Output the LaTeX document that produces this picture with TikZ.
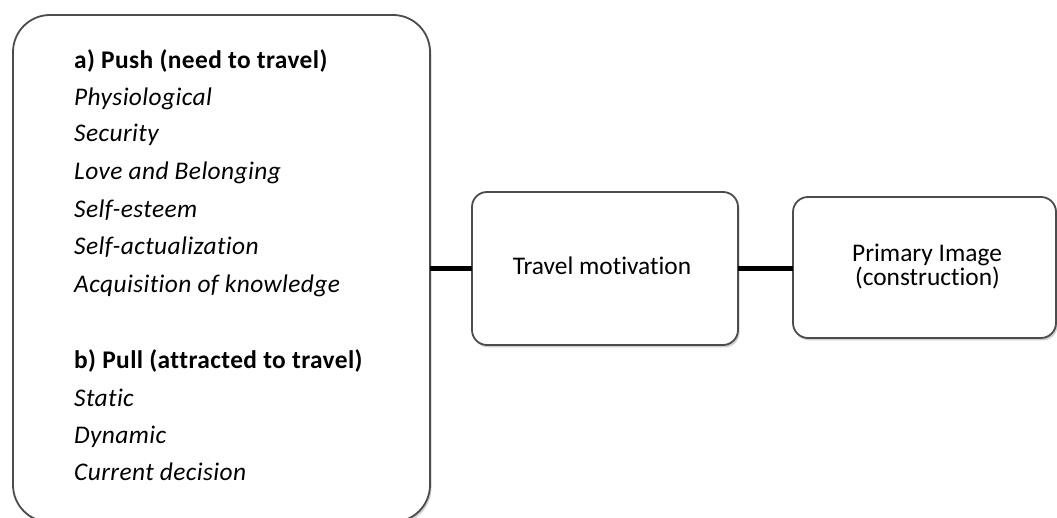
\documentclass[tikz,border=0pt]{standalone}
\usepackage{fontspec}
\setmainfont{Carlito}[Ligatures=NoCommon]
\newfontfamily\lsfont{Carlito}[Ligatures=NoCommon, LetterSpace=1.6]
\usetikzlibrary{shadows}
\begin{document}
\begin{tikzpicture}[x=1pt,y=-1pt,
  box/.style={draw=black!70, line width=1.8pt, fill=white, inner sep=0pt, outer sep=0pt,
    drop shadow={shadow xshift=1.5pt, shadow yshift=-2.5pt, opacity=0.3, fill=black!60}},
  conn/.style={line width=4.5pt, black},
  txt/.style={inner sep=0pt, font=\fontsize{25.4pt}{30pt}\selectfont},
  head/.style={txt, font=\lsfont\fontsize{25.4pt}{30pt}\selectfont\bfseries, anchor=base west},
  item/.style={txt, font=\lsfont\fontsize{25.4pt}{30pt}\selectfont\itshape, anchor=base west}
]
\useasboundingbox (0,0) rectangle (1057,518);
\fill[white] (0,0) rectangle (1057,518);

\node[box, rounded corners=37pt, minimum width=417pt, minimum height=507pt] (L) at (221.5,268.5) {};
\node[box, rounded corners=15pt, minimum width=266pt, minimum height=153pt] (M) at (605,268.5) {};
\node[box, rounded corners=15pt, minimum width=263pt, minimum height=141pt] (R) at (924.5,267.5) {};

\draw[conn] (L.east) -- (M.west);
\draw[conn] (M.east) -- (M.east -| R.west);

\node[head] (h1) at (74,69) {a) Push (need to travel)};
\node[item] (i1) at (74,106) {Physiological};
\node[item] (i2) at (74,142) {Security};
\node[item] (i3) at (74,180) {Love and Belonging};
\node[item] (i4) at (74,218) {Self-esteem};
\node[item] (i5) at (74,255) {Self-actualization};
\node[item] (i6) at (74,293) {Acquisition of knowledge};
\node[head] (h2) at (74,368) {b) Pull (attracted to travel)};
\node[item] (i7) at (74,406) {Static};
\node[item] (i8) at (74,443) {Dynamic};
\node[item] (i9) at (74,480) {Current decision};

\node[txt, anchor=base] (tm) at (602,275) {Travel motivation};
\node[txt, anchor=base] (p1) at (927,262) {Primary Image};
\node[txt, anchor=base] (p2) at (927.5,286) {(construction)};
\end{tikzpicture}
\end{document}
